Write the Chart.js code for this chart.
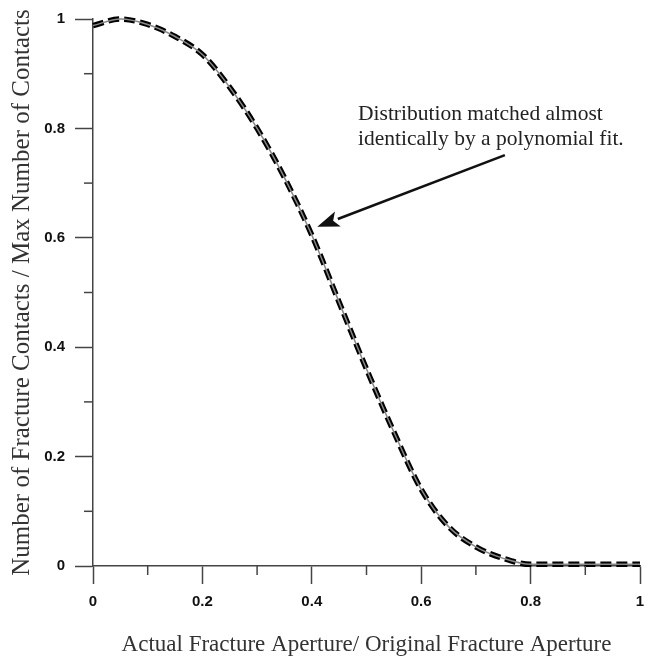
<!DOCTYPE html>
<html>
<head>
<meta charset="utf-8">
<script src="https://cdn.jsdelivr.net/npm/chart.js@4.4.0/dist/chart.umd.min.js"></script>
<style>
  html, body { margin: 0; padding: 0; background: #fff; }
  #wrap { width: 655px; height: 658px; }
</style>
</head>
<body>
<div id="wrap"><canvas id="myChart" width="655" height="658"></canvas></div>
<script>
// aperture ratio (x) and normalised contact count (y)
var apertureRatio = [0, 0.05, 0.1, 0.15, 0.2, 0.25, 0.3, 0.35, 0.4, 0.45, 0.5,
                     0.55, 0.6, 0.65, 0.7, 0.75, 0.8, 0.85, 0.9, 0.95, 1];
var contactRatio  = [0.988, 1.0, 0.99, 0.968, 0.935, 0.875, 0.80, 0.71, 0.605, 0.482, 0.36,
                     0.245, 0.14, 0.072, 0.035, 0.014, 0.003, 0.003, 0.003, 0.003, 0.003];
var fitRatio      = contactRatio.slice(); // polynomial fit sits on top of the data

var majorTicks = [0, 0.2, 0.4, 0.6, 0.8, 1];
var minorTicks = [0.1, 0.3, 0.5, 0.7, 0.9];

var noteLines = ['Distribution matched almost', 'identically by a polynomial fit.'];

function toPoints(xs, ys) {
  return xs.map(function (x, i) { return { x: x, y: ys[i] }; });
}

function isMajor(v) {
  return majorTicks.some(function (m) { return Math.abs(m - v) < 1e-6; });
}

var axisColor = '#444';
var tickFont = { family: 'Liberation Sans, Arial, sans-serif', size: 15, weight: 'bold' };
var serif = 'Liberation Serif, Times New Roman, serif';

// minor ticks (shorter) + annotation arrow and text
var extras = {
  id: 'extras',
  afterDraw: function (chart) {
    var ctx = chart.ctx;
    var xs = chart.scales.x, ys = chart.scales.y;
    var area = chart.chartArea;
    ctx.save();
    ctx.strokeStyle = axisColor;
    ctx.lineWidth = 1.5;
    minorTicks.forEach(function (v) {
      var px = xs.getPixelForValue(v);
      ctx.beginPath();
      ctx.moveTo(px, area.bottom);
      ctx.lineTo(px, area.bottom + 9);
      ctx.stroke();
      var py = ys.getPixelForValue(v);
      ctx.beginPath();
      ctx.moveTo(area.left, py);
      ctx.lineTo(area.left - 9, py);
      ctx.stroke();
    });

    // arrow
    var tail = { x: xs.getPixelForValue(0.753), y: ys.getPixelForValue(0.751) };
    var tip = { x: xs.getPixelForValue(0.41), y: ys.getPixelForValue(0.62) };
    var ang = Math.atan2(tip.y - tail.y, tip.x - tail.x);
    var headLen = 22, headW = 8;
    var bx = tip.x - headLen * Math.cos(ang), by = tip.y - headLen * Math.sin(ang);
    ctx.strokeStyle = '#111';
    ctx.fillStyle = '#111';
    ctx.lineWidth = 2.5;
    ctx.beginPath();
    ctx.moveTo(tail.x, tail.y);
    ctx.lineTo(bx, by);
    ctx.stroke();
    ctx.beginPath();
    ctx.moveTo(tip.x, tip.y);
    ctx.lineTo(bx + headW * Math.sin(ang), by - headW * Math.cos(ang));
    ctx.lineTo(bx + 5 * Math.cos(ang), by + 5 * Math.sin(ang));
    ctx.lineTo(bx - headW * Math.sin(ang), by + headW * Math.cos(ang));
    ctx.closePath();
    ctx.fill();

    // note
    ctx.fillStyle = '#222';
    ctx.font = '21.5px ' + serif;
    ctx.textAlign = 'left';
    ctx.textBaseline = 'alphabetic';
    var tx = xs.getPixelForValue(0.4845);
    noteLines.forEach(function (line, i) {
      ctx.fillText(line, tx, ys.getPixelForValue(0.8145) + i * 25);
    });
    ctx.restore();
  }
};

var ctx = document.getElementById('myChart').getContext('2d');
var myChart = new Chart(ctx, {
  type: 'line',
  data: {
    datasets: [
      {
        label: 'Data',
        data: toPoints(apertureRatio, contactRatio),
        borderColor: '#888',
        borderWidth: 1.5,
        pointRadius: 0,
        cubicInterpolationMode: 'monotone',
        clip: false
      },
      {
        label: 'Polynomial fit',
        data: toPoints(apertureRatio, fitRatio),
        borderColor: '#000',
        borderWidth: 5.5,
        borderDash: [11, 5],
        borderCapStyle: 'butt',
        pointRadius: 0,
        cubicInterpolationMode: 'monotone',
        clip: false
      }
    ]
  },
  options: {
    responsive: false,
    animation: false,
    layout: { padding: { left: 0, right: 15, top: 16, bottom: 0 } },
    plugins: {
      legend: { display: false },
      tooltip: { enabled: false }
    },
    scales: {
      x: {
        type: 'linear',
        min: 0,
        max: 1,
        afterFit: function (scale) { scale.height = 92; },
        afterBuildTicks: function (scale) {
          scale.ticks = majorTicks.map(function (v) { return { value: v }; });
        },
        grid: {
          drawOnChartArea: false,
          tickLength: 18,
          tickColor: axisColor,
          tickWidth: 1.5
        },
        border: { display: true, color: axisColor, width: 1.5 },
        ticks: {
          padding: 9,
          color: '#111',
          font: tickFont,
          maxRotation: 0,
          callback: function (v) { return isMajor(v) ? String(+v.toFixed(1)) : ''; }
        },
        title: {
          display: true,
          text: 'Actual Fracture Aperture/ Original Fracture Aperture',
          color: '#333',
          font: { family: serif, size: 23, lineHeight: 1 },
          padding: { top: 0, bottom: 2 }
        }
      },
      y: {
        type: 'linear',
        min: 0,
        max: 1,
        afterFit: function (scale) { scale.width = 93; },
        afterBuildTicks: function (scale) {
          scale.ticks = majorTicks.map(function (v) { return { value: v }; });
        },
        grid: {
          drawOnChartArea: false,
          tickLength: 18,
          tickColor: axisColor,
          tickWidth: 1.5
        },
        border: { display: true, color: axisColor, width: 1.5 },
        ticks: {
          padding: 10,
          color: '#111',
          font: tickFont,
          callback: function (v) { return isMajor(v) ? String(+v.toFixed(1)) : ''; }
        },
        title: {
          display: true,
          text: 'Number of Fracture Contacts / Max Number of Contacts',
          color: '#333',
          font: { family: serif, size: 25, lineHeight: 1 },
          padding: { top: 10, bottom: 0 }
        }
      }
    }
  },
  plugins: [extras]
});
</script>
</body>
</html>
